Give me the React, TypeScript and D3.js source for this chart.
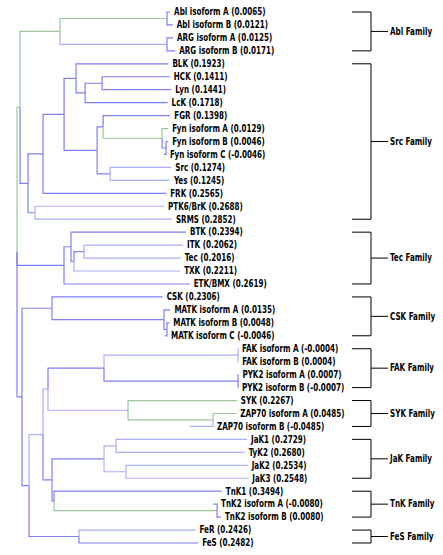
import React from "react";
import * as d3 from "d3";

// ---- Tree data (flat arrays) ----
const nodeIds = [
  "root",
  "N20", "AA", "Abl", "Abl isoform A", "Abl isoform B", "ARG", "ARG isoform A", "ARG isoform B",
  "N28", "N43", "N64", "N76", "BLK", "N84", "N101", "HCK", "Lyn", "LcK",
  "N97", "N103", "FGR", "Fyn", "Fyn isoform A", "FynBC", "Fyn isoform B", "Fyn isoform C",
  "N110", "Src", "Yes", "FRK", "N33", "PTK6/BrK", "SRMS",
  "TecN", "N71", "BTK", "N74", "N84b", "ITK", "Tec", "TXK", "ETK/BMX",
  "N22", "CSKn", "CSK", "MATK", "MATK isoform A", "MATKBC", "MATK isoform B", "MATK isoform C",
  "N29", "N43b", "N48", "FAKPYK", "FAK", "FAK isoform A", "FAK isoform B", "PYK2", "PYK2 isoform A", "PYK2 isoform B",
  "SYKn", "SYK", "ZAP", "ZAP70 isoform A", "ZAP70 isoform B",
  "N52", "JaKn", "JK1", "JaK1", "TyK2", "JK2", "JaK2", "JaK3",
  "TnKn", "TnK1", "TnK2", "TnK2 isoform A", "TnK2 isoform B",
  "FeSn", "FeR", "FeS",
];
const nodeParents = [
  "",
  "root", "N20", "AA", "Abl", "Abl", "AA", "ARG", "ARG",
  "N20", "N28", "N43", "N64", "N76", "N76", "N84", "N101", "N101", "N84",
  "N64", "N97", "N103", "N103", "Fyn", "Fyn", "FynBC", "FynBC",
  "N97", "N110", "N110", "N43", "N28", "N33", "N33",
  "root", "TecN", "N71", "N71", "N74", "N84b", "N84b", "N74", "TecN",
  "root", "N22", "CSKn", "CSKn", "MATK", "MATK", "MATKBC", "MATKBC",
  "N22", "N29", "N43b", "N48", "FAKPYK", "FAK", "FAK", "FAKPYK", "PYK2", "PYK2",
  "N48", "SYKn", "SYKn", "ZAP", "ZAP",
  "N43b", "N52", "JaKn", "JK1", "JK1", "JaKn", "JK2", "JK2",
  "N52", "TnKn", "TnKn", "TnK2", "TnK2",
  "N29", "FeSn", "FeSn",
];
const branchLengths = [
  0,
  0.0063, 0.0833, 0.2229, 0.0065, 0.0121, 0.2229, 0.0125, 0.0171,
  0.0167, 0.0313, 0.0438, 0.025, 0.1923, 0.0188, 0.0354, 0.1411, 0.1441, 0.1718,
  0.0688, 0.0125, 0.1398, 0.1229, 0.0129, 0.0083, 0.0046, -0.0046,
  0.0271, 0.1274, 0.1245, 0.2565, 0.0146, 0.2688, 0.2852,
  0.0979, 0.0146, 0.2394, 0.0063, 0.0208, 0.2062, 0.2016, 0.2211, 0.2619,
  0.0104, 0.0625, 0.2306, 0.2333, 0.0135, 0.0063, 0.0048, -0.0046,
  0.0146, 0.0292, 0.0104, 0.1167, 0.2792, -0.0004, 0.0004, 0.2792, 0.0007, -0.0007,
  0.1667, 0.2267, 0.1771, 0.0485, -0.0485,
  0.0188, 0.1083, 0.025, 0.2729, 0.2680, 0.0458, 0.2534, 0.2548,
  0.0042, 0.3494, 0.3396, -0.0080, 0.0080,
  0.1042, 0.2426, 0.2482,
];

// ---- Families ----
const familyNames = ["Abl Family", "Src Family", "Tec Family", "CSK Family", "FAK Family", "SYK Family", "JaK Family", "TnK Family", "FeS Family"];
const familyFirst = ["Abl isoform A", "BLK", "BTK", "CSK", "FAK isoform A", "SYK", "JaK1", "TnK1", "FeR"];
const familyLast = ["ARG isoform B", "SRMS", "ETK/BMX", "MATK isoform C", "PYK2 isoform B", "ZAP70 isoform B", "JaK3", "TnK2 isoform B", "FeS"];

// ---- Styles ----
const BLUE = "#7f7ff8";
const LIGHT = "#aab0fa";
const GREEN = "#9cc89c";
const linkColors: Record<string, string> = {
  N20: GREEN, AA: GREEN, Abl: GREEN, ARG: LIGHT,
  Fyn: GREEN, "Fyn isoform A": GREEN,
  ZAP: GREEN, "ZAP70 isoform A": GREEN, "ZAP70 isoform B": LIGHT,
  JK1: LIGHT, JaK1: LIGHT, TyK2: LIGHT, JK2: LIGHT, JaK2: LIGHT, JaK3: LIGHT,
  TnK2: GREEN, FeR: LIGHT, PTK6: LIGHT, "PTK6/BrK": LIGHT, SRMS: LIGHT,
  FAK: LIGHT, "FAK isoform A": LIGHT, "FAK isoform B": LIGHT,
  Src: LIGHT, Yes: LIGHT, ITK: LIGHT, Tec: LIGHT, TXK: LIGHT,
  N48: LIGHT, N43b: LIGHT, SYKn: LIGHT, SYK: GREEN,
};

const W = 443;
const H = 555;
const FONT = "'DejaVu Sans Condensed', 'DejaVu Sans', sans-serif";

export default function App() {
  const rows = nodeIds.map((id, i) => ({ id, parentId: nodeParents[i] || null, len: branchLengths[i] }));
  const root = d3.stratify<any>().id((d: any) => d.id).parentId((d: any) => d.parentId)(rows);

  const xScale = d3.scaleLinear().domain([0, 1]).range([17, 497]);
  const leaves = root.leaves();
  const yScale = d3.scaleLinear().domain([0, leaves.length - 1]).range([12, 543]);

  const pos: Record<string, { x: number; y: number }> = {};
  root.eachBefore((n: any) => {
    const dist = n.parent ? (n.parent as any).dist + n.data.len : 0;
    n.dist = dist;
  });
  leaves.forEach((l: any, i) => {
    pos[l.id] = { x: xScale(l.dist), y: yScale(i) };
  });
  root.eachAfter((n: any) => {
    if (n.children) {
      const c = n.children;
      pos[n.id] = { x: xScale(n.dist), y: (pos[c[0].id].y + pos[c[c.length - 1].id].y) / 2 };
    }
  });

  const links = root.links();

  const bx0 = 352, bx1 = 371, bx2 = 388;

  return (
    <svg width={W} height={H} style={{ display: "block", position: "absolute", left: 0, top: 0 }}>
      <rect width={W} height={H} fill="#ffffff" />
      <g fill="none" strokeWidth={1.2}>
        {links.map((lk: any, i) => {
          const p = pos[lk.source.id];
          const c = pos[lk.target.id];
          const path = d3.path();
          path.moveTo(p.x, p.y);
          path.lineTo(p.x, c.y);
          path.lineTo(c.x, c.y);
          return <path key={i} d={path.toString()} stroke={linkColors[lk.target.id] || BLUE} />;
        })}
      </g>
      <g fontFamily={FONT} fontWeight="bold" fontSize={10} fill="#000">
        {leaves.map((l: any) => {
          const c = pos[l.id];
          const p = pos[l.parent.id];
          const lx = Math.max(c.x, p.x) + 4;
          return (
            <text key={l.id} transform={`translate(${lx},${c.y}) scale(0.8,1)`} dominantBaseline="central">
              {`${l.id} (${l.data.len.toFixed(4)})`}
            </text>
          );
        })}
      </g>
      <g stroke="#000" strokeWidth={1} fill="none">
        {familyNames.map((f, i) => {
          const y1 = pos[familyFirst[i]].y;
          const y2 = pos[familyLast[i]].y;
          const ym = (y1 + y2) / 2;
          return (
            <path key={f} d={`M${bx0},${y1}H${bx1}V${y2}H${bx0}M${bx1},${ym}H${bx2}`} />
          );
        })}
      </g>
      <g fontFamily={FONT} fontWeight="bold" fontSize={10} fill="#000">
        {familyNames.map((f, i) => {
          const y1 = pos[familyFirst[i]].y;
          const y2 = pos[familyLast[i]].y;
          const ym = (y1 + y2) / 2;
          return (
            <text key={f} transform={`translate(${bx2 + 2},${ym}) scale(0.8,1)`} dominantBaseline="central">
              {f}
            </text>
          );
        })}
      </g>
    </svg>
  );
}
